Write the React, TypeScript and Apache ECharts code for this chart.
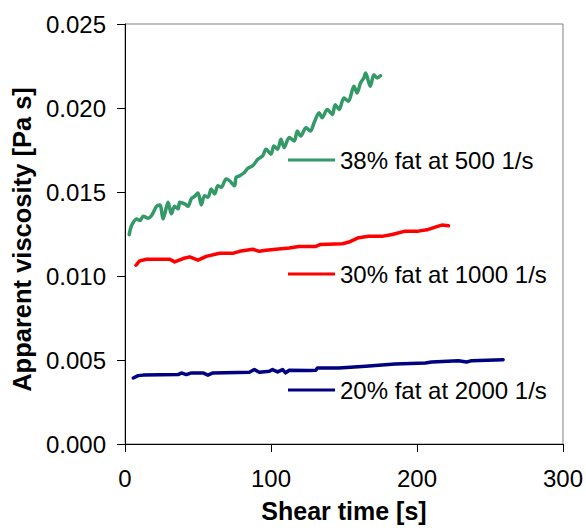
import React, { useEffect, useRef } from "react";
import * as echarts from "echarts";

const FONT = "'Liberation Sans', Arial, Helvetica, sans-serif";

const seriesNames = ["38% fat at 500 1/s", "30% fat at 1000 1/s", "20% fat at 2000 1/s"];
const seriesColors = ["#339966", "#FF0000", "#000080"];

const greenTime = [2.9, 4.5, 8, 10.2, 12.5, 15.9, 18.2, 21.6, 23.9, 26.1, 28.4, 29.5, 31.8, 34, 36.4, 37.5, 40.9, 43.2, 45.4, 47.7, 50, 52.3, 54.5, 56.8, 59.1, 61.4, 63.6, 65.9, 69.3, 71.6, 75, 76.1, 78.4, 81.8, 84.1, 87.5, 91, 94.3, 96.6, 100, 102, 104.5, 106.8, 109, 112.5, 116, 118, 120.4, 124, 127, 129.5, 133, 135, 138.6, 142, 144, 146.6, 150, 153, 156.8, 159, 161.3, 163.6, 164.8, 168, 170.5, 172.7, 175];
const greenVisc = [0.01246, 0.0130, 0.0134, 0.0133, 0.01356, 0.01344, 0.0136, 0.01415, 0.01423, 0.0134, 0.0141, 0.01439, 0.0137, 0.01415, 0.0140, 0.01439, 0.01429, 0.01415, 0.01459, 0.01474, 0.01494, 0.01423, 0.01478, 0.01469, 0.01518, 0.01488, 0.01537, 0.01528, 0.01577, 0.01567, 0.01537, 0.01587, 0.01596, 0.01616, 0.0164, 0.01656, 0.01695, 0.01715, 0.01754, 0.01725, 0.01774, 0.01754, 0.01814, 0.01764, 0.01824, 0.01804, 0.01863, 0.01833, 0.01883, 0.01863, 0.01912, 0.01972, 0.01942, 0.01991, 0.01961, 0.0202, 0.01991, 0.0206, 0.0204, 0.02129, 0.0209, 0.02149, 0.02179, 0.02208, 0.02129, 0.02198, 0.02179, 0.02192];

const redTime = [7.5, 10, 14.8, 30.7, 34, 39.8, 44.3, 50, 55.7, 64.8, 73.8, 78.4, 87.5, 92, 96.6, 103.4, 112.5, 119, 130.7, 134, 149, 153.4, 160, 167, 176, 183, 192, 201, 206.8, 212.5, 217, 221.6];
const redVisc = [0.01064, 0.0109, 0.0110, 0.0110, 0.01084, 0.01104, 0.01114, 0.01094, 0.01117, 0.01135, 0.01135, 0.01147, 0.01159, 0.01147, 0.01153, 0.01159, 0.01167, 0.01176, 0.01176, 0.01188, 0.01192, 0.01202, 0.01228, 0.01236, 0.01236, 0.01247, 0.01267, 0.01267, 0.01275, 0.01291, 0.01303, 0.01299];

const blueTime = [5.7, 9, 12.5, 36.4, 38.6, 42, 45.5, 53.4, 56.8, 60.2, 85.2, 88.6, 92, 98.9, 101, 104.5, 108, 110, 112.5, 126, 130.7, 131.8, 146.6, 164.8, 185, 205.7, 210, 228.4, 234, 237.5, 259];
const blueVisc = [0.00393, 0.00407, 0.0041, 0.00413, 0.00423, 0.00413, 0.00423, 0.00423, 0.0041, 0.00423, 0.00427, 0.00443, 0.00427, 0.00433, 0.00443, 0.00429, 0.00443, 0.00423, 0.00439, 0.00437, 0.00439, 0.00453, 0.00453, 0.00463, 0.00476, 0.00482, 0.00488, 0.00496, 0.00488, 0.00496, 0.00502];

const xTicks = { min: 0, max: 300, interval: 100 };
const yTicks = { min: 0, max: 0.025, interval: 0.005 };

const legendTops = [148, 262, 378];

function pairs(t: number[], v: number[]) {
  return t.map((x, i) => [x, v[i]]);
}

export default function App() {
  const ref = useRef<HTMLDivElement>(null);
  useEffect(() => {
    if (!ref.current) return;
    const chart = echarts.init(ref.current, null, { renderer: "svg" });
    const datasets = [pairs(greenTime, greenVisc), pairs(redTime, redVisc), pairs(blueTime, blueVisc)];
    chart.setOption({
      animation: false,
      backgroundColor: "#ffffff",
      textStyle: { fontFamily: FONT },
      grid: {
        left: 125,
        right: 21,
        top: 24,
        bottom: 81.5,
        show: true,
        borderColor: "#808080",
        borderWidth: 1,
        backgroundColor: "transparent",
      },
      legend: seriesNames.map((name, i) => ({
        data: [name],
        left: 288,
        top: legendTops[i],
        padding: 0,
        icon: "rect",
        itemWidth: 47,
        itemHeight: 3,
        selectedMode: false,
        textStyle: { fontSize: 24, color: "#000", fontFamily: FONT },
      })),
      xAxis: {
        type: "value",
        min: xTicks.min,
        max: xTicks.max,
        interval: xTicks.interval,
        name: "Shear time [s]",
        nameLocation: "middle",
        nameGap: 54,
        nameTextStyle: { fontSize: 25, fontWeight: "bold", color: "#000", fontFamily: FONT },
        axisLine: { show: true, lineStyle: { color: "#000", width: 1 } },
        axisTick: { show: true, inside: false, length: 8, lineStyle: { color: "#000" } },
        axisLabel: { fontSize: 24, color: "#000", margin: 22, fontFamily: FONT },
        splitLine: { show: false },
      },
      yAxis: {
        type: "value",
        min: yTicks.min,
        max: yTicks.max,
        interval: yTicks.interval,
        name: "Apparent viscosity [Pa s]",
        nameLocation: "middle",
        nameGap: 90,
        nameTextStyle: {
          fontSize: 25.5,
          fontWeight: "bold",
          color: "#000",
          fontFamily: FONT,
          padding: [0, 11, 0, 0],
        },
        axisLine: { show: true, lineStyle: { color: "#000", width: 1 } },
        axisTick: { show: true, inside: false, length: 8, lineStyle: { color: "#000" } },
        axisLabel: {
          fontSize: 24,
          color: "#000",
          margin: 19,
          fontFamily: FONT,
          formatter: (v: number) => v.toFixed(3),
        },
        splitLine: { show: false },
      },
      series: seriesNames.map((name, i) => ({
        name,
        type: "line",
        data: datasets[i],
        showSymbol: false,
        symbol: "none",
        smooth: i === 0 ? 0.3 : false,
        color: seriesColors[i],
        itemStyle: { color: seriesColors[i] },
        lineStyle: { color: seriesColors[i], width: 3.5, cap: "round", join: "round" },
        z: 3 - i,
      })),
    });
    return () => chart.dispose();
  }, []);
  return (
    <div
      ref={ref}
      style={{ position: "absolute", left: 0, top: 0, width: 586, height: 528 }}
    />
  );
}
